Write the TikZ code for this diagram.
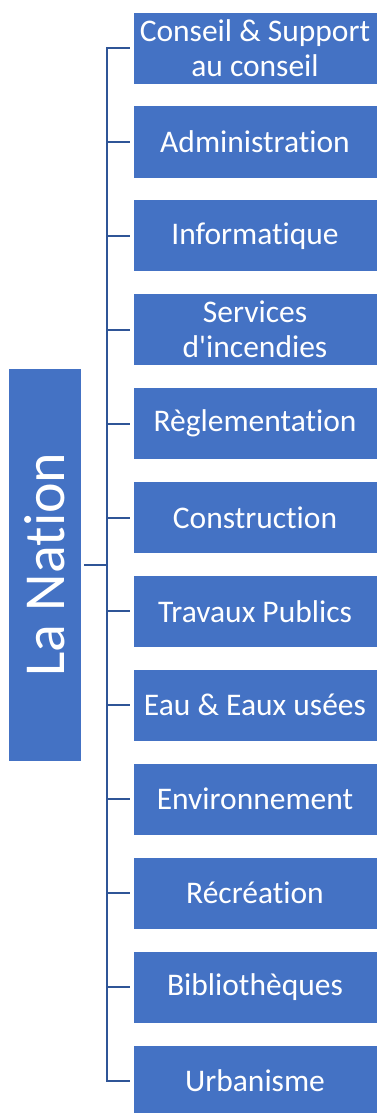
\documentclass[tikz,border=0pt]{standalone}
\usepackage{fontspec}
\setmainfont{Carlito}[Ligatures={NoCommon}]
\definecolor{boxblue}{HTML}{4472C4}
\definecolor{lineblue}{HTML}{2F5597}
\begin{document}
\begin{tikzpicture}[x=1pt,y=-1pt,
  unitbox/.style={draw=white, line width=0.8pt, fill=boxblue, text=white, inner sep=0pt,
    minimum width=244pt, minimum height=72pt, align=center,
    font=\fontsize{31.5}{35}\selectfont},
  rootbox/.style={draw=white, line width=0.8pt, fill=boxblue, text=white, inner sep=0pt,
    minimum width=393pt, minimum height=72.5pt, rotate=90,
    font=\fontsize{58}{60}\selectfont},
  conn/.style={draw=lineblue, line width=2pt, line join=miter}]
\useasboundingbox (0,0) rectangle (377,1113);
\node[rootbox] (nation) at (44.75,564.5) {La Nation};
\coordinate (bus) at (107,0);
\foreach \t [count=\i from 0] in {{Conseil \& Support\\au conseil},Administration,Informatique,{Services\\d\textquotesingle incendies},Règlementation,Construction,Travaux Publics,Eau \& Eaux usées,Environnement,Récréation,Bibliothèques,Urbanisme}{
  \node[unitbox] (b\i) at (255,48+\i*93.9) {\t};
}
\draw[conn] ([xshift=-3pt]b0.west) -- (b0.west -| bus) -- (b11.west -| bus) -- ([xshift=-3pt]b11.west);
\foreach \i in {1,...,10}{
  \draw[conn] ([xshift=-3pt]b\i.west) -- (b\i.west -| bus);
}
\draw[conn] ([xshift=3pt]nation.south) -- (nation.south -| bus);
\end{tikzpicture}
\end{document}
